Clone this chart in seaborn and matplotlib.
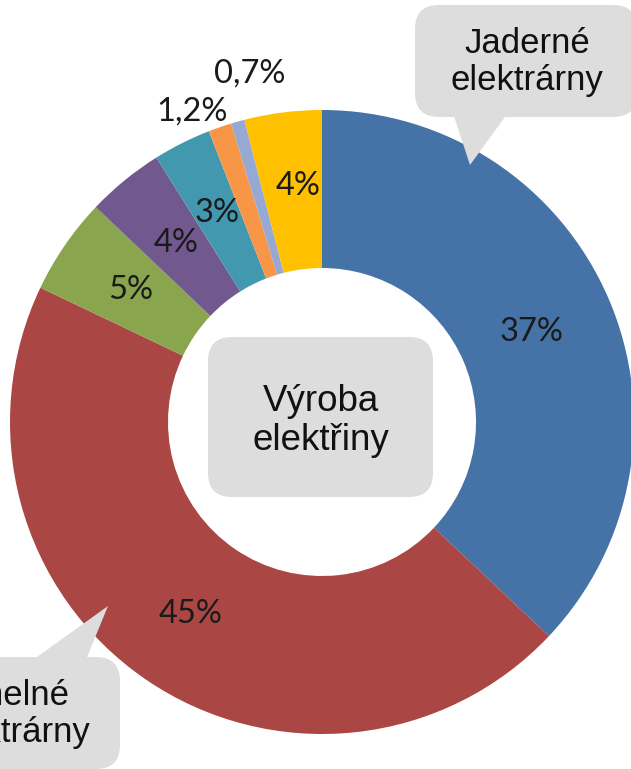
import matplotlib
matplotlib.use("Agg")
import matplotlib.pyplot as plt
import seaborn as sns
import numpy as np
from matplotlib.patches import FancyBboxPatch, Polygon

# data
sources = ["Jaderné elektrárny", "Uhelné elektrárny", "Plynové", "Vodní",
           "Obnovitelné", "Ostatní", "Přečerpávací", "Zbytek"]
shares = [37, 45, 5, 4, 3, 1.2, 0.7, 4]
pct_labels = ["37%", "45%", "5%", "4%", "3%", "1,2%", "0,7%", "4%"]
colors = ["#4572A7", "#AA4643", "#89A54E", "#71588F",
          "#4198AF", "#F79646", "#96A9D2", "#FFC000"]

W, H = 631, 769
sns.set_theme(style="white")
plt.rcParams['font.family'] = ['Liberation Sans', 'DejaVu Sans']

fig = plt.figure(figsize=(W / 100, H / 100), dpi=100)
ax = fig.add_axes([0, 0, 1, 1])
ax.set_aspect('equal')
ax.axis('off')

cx, cy, R = 322, H - 422, 312
ring = 158
wedges, _ = ax.pie(shares, colors=colors, startangle=90, counterclock=False,
                   radius=R, center=(cx, cy),
                   wedgeprops=dict(width=ring, linewidth=0))
ax.set_xlim(0, W)
ax.set_ylim(0, H)

# label placement (radius factor, angle shift in deg)
lab_r = [0.73, 0.745, 0.745, 0.74, 0.75, 1.08, 1.14, 0.76]
lab_shift = [0, 0, 0, 0, 0, 3.6, -4, -1.4]
for w, t, rf, sh in zip(wedges, pct_labels, lab_r, lab_shift):
    a = np.deg2rad((w.theta1 + w.theta2) / 2 + sh)
    ax.text(cx + rf * R * np.cos(a), cy + rf * R * np.sin(a), t,
            ha='center', va='center', fontsize=23.5, color='#1a1a1a',
            family=['Lato', 'DejaVu Sans'])

box_c = '#DDDDDD'


def callout(x0, y0, x1, y1, text, size, tri=None, tx=None, ty=None):
    ax.add_patch(FancyBboxPatch((x0, H - y1), x1 - x0, y1 - y0,
                                boxstyle="round,pad=0,rounding_size=24",
                                fc=box_c, ec='none', zorder=5))
    if tri:
        ax.add_patch(Polygon([(px, H - py) for px, py in tri],
                             closed=True, fc=box_c, ec='none', zorder=5))
    tx = (x0 + x1) / 2 if tx is None else tx
    ty = (y0 + y1) / 2 if ty is None else ty
    ax.text(tx, H - ty, text, ha='center', va='center',
            fontsize=size, color='#111111', linespacing=1.12, zorder=6)


callout(415, 5, 637, 117, "Jaderné\nelektrárny", 25,
        tri=[(452, 110), (470, 165), (510, 110)], tx=527, ty=62)
callout(-90, 657, 120, 769, "Uhelné\nelektrárny", 25,
        tri=[(30, 662), (108, 606), (85, 662)], tx=14, ty=714)
callout(208, 337, 433, 497, "Výroba\nelektřiny", 26.5, ty=421)

fig.savefig("out.png", dpi=100)
